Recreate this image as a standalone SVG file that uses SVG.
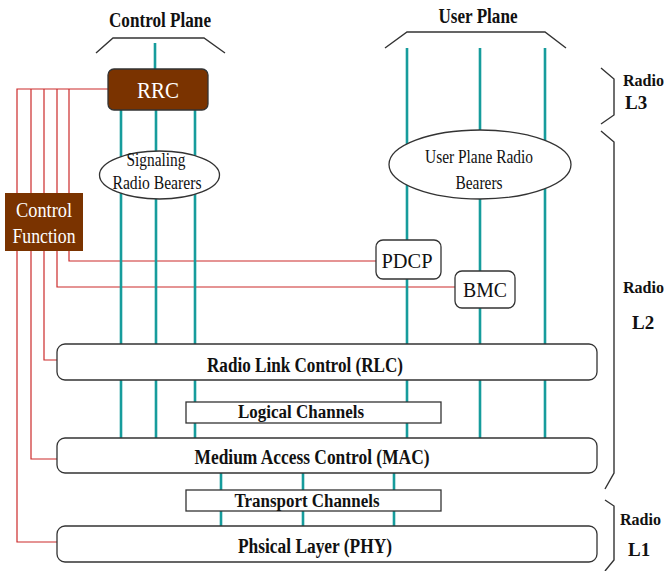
<svg xmlns="http://www.w3.org/2000/svg" width="664" height="571" viewBox="0 0 664 571">
<style>
.box{fill:#fff;stroke:#333;stroke-width:1.3}
.brown{fill:#7a3300;stroke:#333;stroke-width:1.3}
.teal{stroke:#169c9c;stroke-width:2.6;fill:none}
.red{stroke:#cc2a2a;stroke-width:1.2;fill:none}
.br{stroke:#333;stroke-width:1.4;fill:none}
.b{font-family:"Liberation Serif","Times New Roman",serif;font-weight:bold;fill:#111}
.r{font-family:"Liberation Serif","Times New Roman",serif;fill:#111}
.w{font-family:"Liberation Serif","Times New Roman",serif;fill:#fff}
</style>
<rect width="664" height="571" fill="#fff"/>

<g id="connectors">
  <path class="red" d="M108,89 H17 V542 H57"/>
  <path class="red" d="M31,89 V459 H57"/>
  <path class="red" d="M44,89 V360 H57"/>
  <path class="red" d="M57,89 V287 H455"/>
  <path class="red" d="M69,89 V261 H376"/>
  <path class="teal" d="M155,43 V69"/>
  <path class="teal" d="M121,110 V438"/>
  <path class="teal" d="M156,110 V438"/>
  <path class="teal" d="M195,110 V438"/>
  <path class="teal" d="M407,48 V438"/>
  <path class="teal" d="M480,48 V438"/>
  <path class="teal" d="M545,48 V438"/>
  <path class="teal" d="M221,473 V526"/>
  <path class="teal" d="M303,473 V526"/>
  <path class="teal" d="M394,473 V526"/>
</g>

<g id="control-plane-label">
  <path class="br" d="M96,53 L113,38 H204 L225,53"/>
  <text class="b" x="160" y="27" font-size="20" text-anchor="middle" textLength="102" lengthAdjust="spacingAndGlyphs">Control Plane</text>
</g>
<g id="user-plane-label">
  <path class="br" d="M385,48 L407,32 H545 L566,48"/>
  <text class="b" x="478" y="23" font-size="20" text-anchor="middle" textLength="79" lengthAdjust="spacingAndGlyphs">User Plane</text>
</g>

<g id="rrc">
  <rect class="brown" x="108" y="69" width="100" height="41" rx="6"/>
  <text class="w" x="158" y="98" font-size="23" text-anchor="middle" textLength="42" lengthAdjust="spacingAndGlyphs">RRC</text>
</g>

<g id="control-function">
  <rect x="5" y="193" width="78" height="58" fill="#7a3300"/>
  <text class="w" x="44" y="217" font-size="20" text-anchor="middle" textLength="56" lengthAdjust="spacingAndGlyphs">Control</text>
  <text class="w" x="44" y="243" font-size="20" text-anchor="middle" textLength="63" lengthAdjust="spacingAndGlyphs">Function</text>
</g>

<g id="signaling-radio-bearers">
  <ellipse class="box" cx="159.5" cy="175" rx="60" ry="24"/>
  <text class="r" x="156" y="166" font-size="18" text-anchor="middle" textLength="59" lengthAdjust="spacingAndGlyphs">Signaling</text>
  <text class="r" x="157" y="189" font-size="18" text-anchor="middle" textLength="89" lengthAdjust="spacingAndGlyphs">Radio Bearers</text>
</g>

<g id="user-plane-radio-bearers">
  <ellipse class="box" cx="480" cy="164.5" rx="91" ry="34.5"/>
  <text class="r" x="479" y="163" font-size="18" text-anchor="middle" textLength="108" lengthAdjust="spacingAndGlyphs">User Plane Radio</text>
  <text class="r" x="479" y="189" font-size="18" text-anchor="middle" textLength="47" lengthAdjust="spacingAndGlyphs">Bearers</text>
</g>

<g id="pdcp">
  <rect class="box" x="376" y="240" width="65" height="39" rx="7"/>
  <text class="r" x="407" y="268" font-size="22" text-anchor="middle" textLength="51" lengthAdjust="spacingAndGlyphs">PDCP</text>
</g>

<g id="bmc">
  <rect class="box" x="455" y="271" width="60" height="37" rx="7"/>
  <text class="r" x="485" y="297" font-size="22" text-anchor="middle" textLength="44" lengthAdjust="spacingAndGlyphs">BMC</text>
</g>

<g id="rlc">
  <rect class="box" x="57" y="344" width="540" height="36" rx="8"/>
  <text class="b" x="305" y="372" font-size="20" text-anchor="middle" textLength="196" lengthAdjust="spacingAndGlyphs">Radio Link Control (RLC)</text>
</g>

<g id="logical-channels">
  <rect class="box" x="186" y="402" width="255" height="21"/>
  <text class="b" x="301" y="418" font-size="18" text-anchor="middle" textLength="126" lengthAdjust="spacingAndGlyphs">Logical  Channels</text>
</g>

<g id="mac">
  <rect class="box" x="57" y="438" width="540" height="35" rx="8"/>
  <text class="b" x="312" y="464" font-size="20" text-anchor="middle" textLength="235" lengthAdjust="spacingAndGlyphs">Medium Access Control (MAC)</text>
</g>

<g id="transport-channels">
  <rect class="box" x="186" y="490" width="255" height="21"/>
  <text class="b" x="307" y="507" font-size="18" text-anchor="middle" textLength="145" lengthAdjust="spacingAndGlyphs">Transport  Channels</text>
</g>

<g id="phy">
  <rect class="box" x="57" y="526" width="540" height="36" rx="8"/>
  <text class="b" x="315" y="553" font-size="20" text-anchor="middle" textLength="154" lengthAdjust="spacingAndGlyphs">Phsical Layer (PHY)</text>
</g>

<g id="radio-l3">
  <path class="br" d="M601,68 L614,79 V115 L601,124"/>
  <text class="b" x="623" y="86" font-size="16" textLength="41" lengthAdjust="spacingAndGlyphs">Radio</text>
  <text class="b" x="625" y="109" font-size="19">L3</text>
</g>
<g id="radio-l2">
  <path class="br" d="M601,131 L614,142 V473 L605,489"/>
  <text class="b" x="623" y="293" font-size="16" textLength="41" lengthAdjust="spacingAndGlyphs">Radio</text>
  <text class="b" x="632" y="329" font-size="19">L2</text>
</g>
<g id="radio-l1">
  <path class="br" d="M605,500 L614,506 V560 L605,571"/>
  <text class="b" x="620" y="525" font-size="16" textLength="41" lengthAdjust="spacingAndGlyphs">Radio</text>
  <text class="b" x="628" y="556" font-size="19">L1</text>
</g>
</svg>
